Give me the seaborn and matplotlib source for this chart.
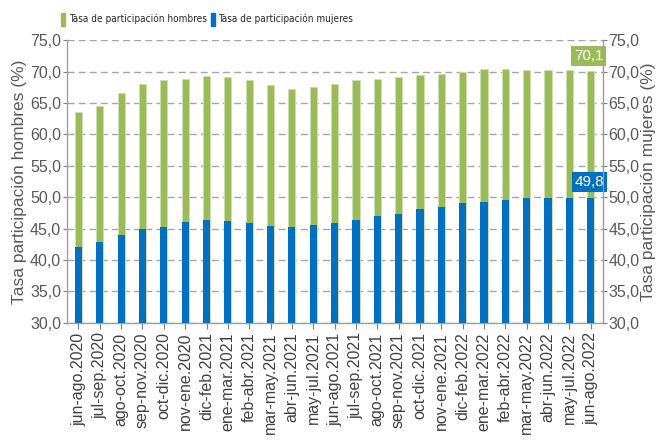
import matplotlib
matplotlib.use("Agg")
import matplotlib.pyplot as plt
import matplotlib.ticker as mticker
from matplotlib.patches import Patch
import seaborn as sns
import pandas as pd

periods = ["jun-ago.2020", "jul-sep.2020", "ago-oct.2020", "sep-nov.2020", "oct-dic.2020",
           "nov-ene.2020", "dic-feb.2021", "ene-mar.2021", "feb-abr.2021", "mar-may.2021",
           "abr-jun.2021", "may-jul.2021", "jun-ago.2021", "jul-sep.2021", "ago-oct.2021",
           "sep-nov.2021", "oct-dic.2021", "nov-ene.2021", "dic-feb.2022", "ene-mar.2022",
           "feb-abr.2022", "mar-may.2022", "abr-jun.2022", "may-jul.2022", "jun-ago.2022"]
hombres = [63.6, 64.6, 66.6, 68.0, 68.6, 68.9, 69.3, 69.1, 68.6, 67.8,
           67.2, 67.5, 68.1, 68.6, 68.9, 69.1, 69.5, 69.7, 70.0, 70.4,
           70.4, 70.3, 70.2, 70.2, 70.1]
mujeres = [42.0, 42.8, 43.9, 45.0, 45.3, 46.0, 46.4, 46.2, 45.9, 45.4,
           45.2, 45.5, 45.9, 46.3, 47.0, 47.4, 48.1, 48.5, 49.0, 49.3,
           49.6, 49.9, 49.8, 49.9, 49.8]

GREEN = "#9BBB59"
BLUE = "#0070C0"
GRAY = "#595959"

df = pd.DataFrame({"periodo": periods, "hombres": hombres, "mujeres": mujeres})

sns.set_style("white")
plt.rcParams["font.family"] = ["Liberation Sans", "DejaVu Sans"]

fig = plt.figure(figsize=(6.62, 4.46), dpi=100)
ax = fig.add_axes([0.1008, 0.2765, 0.8101, 0.6331])

sns.barplot(data=df, x="periodo", y="hombres", color=GREEN, width=0.34,
            saturation=1, edgecolor="#cfe0b0", linewidth=0.6, ax=ax, zorder=2)
sns.barplot(data=df, x="periodo", y="mujeres", color=BLUE, width=0.34,
            saturation=1, linewidth=0, ax=ax, zorder=3)

ax.set_ylim(30, 75)
ax.set_xlim(-0.55, len(periods) - 0.42)
ax.yaxis.set_major_locator(mticker.MultipleLocator(5))
fmt = mticker.FuncFormatter(lambda v, p: f"{v:.1f}".replace(".", ","))
ax.yaxis.set_major_formatter(fmt)
ax.grid(axis="y", color="#A6A6A6", linestyle=(0, (5, 3)), linewidth=1.0, zorder=0)
ax.set_axisbelow(True)

ax.set_xlabel("")
ax.set_ylabel("Tasa participación hombres (%)", fontsize=12.5, color=GRAY, labelpad=2)
ax.tick_params(axis="x", rotation=90, labelsize=11.5, labelcolor="#404040",
               length=4, width=0.8, color="#808080", bottom=True, pad=3)
ax.tick_params(axis="y", labelsize=11.5, labelcolor=GRAY, length=3, width=0.8,
               color="#808080", left=True, pad=1)

for s in ["left", "bottom", "right"]:
    ax.spines[s].set_color("#A0A0A0")
    ax.spines[s].set_linewidth(1.0)
ax.spines["top"].set_visible(False)

ax2 = ax.twinx()
ax2.set_ylim(30, 75)
ax2.yaxis.set_major_locator(mticker.MultipleLocator(5))
ax2.yaxis.set_major_formatter(fmt)
ax2.set_ylabel("Tasa participación mujeres (%)", fontsize=12.5, color=GRAY,
               rotation=90, labelpad=1)
ax2.tick_params(axis="y", labelsize=11.5, labelcolor=GRAY, length=3, width=0.8,
                color="#808080", right=True, pad=1)
for s in ["left", "top", "bottom"]:
    ax2.spines[s].set_visible(False)
ax2.spines["right"].set_color("#A0A0A0")

last = len(periods) - 1
ax.text(last - 0.1, hombres[-1] + 2.4, f"{hombres[-1]:.1f}".replace(".", ","),
        ha="center", va="center", color="white", fontsize=11, zorder=5,
        bbox=dict(boxstyle="square,pad=0.2", fc=GREEN, ec="none"))
ax.text(last - 0.05, mujeres[-1] + 2.6, f"{mujeres[-1]:.1f}".replace(".", ","),
        ha="center", va="center", color="white", fontsize=11, zorder=5,
        bbox=dict(boxstyle="square,pad=0.2", fc=BLUE, ec="none"))

handles = [Patch(color=GREEN, label="Tasa de participación hombres"),
           Patch(color=BLUE, label="Tasa de participación mujeres")]
fig.legend(handles=handles, loc="center left", bbox_to_anchor=(0.078, 0.957),
           ncol=2, frameon=False, handlelength=0.45, handleheight=1.6,
           handletextpad=0.35, columnspacing=0.4,
           prop={"family": "DejaVu Sans", "stretch": "condensed", "size": 7.2})

fig.savefig("out.png", dpi=100)
